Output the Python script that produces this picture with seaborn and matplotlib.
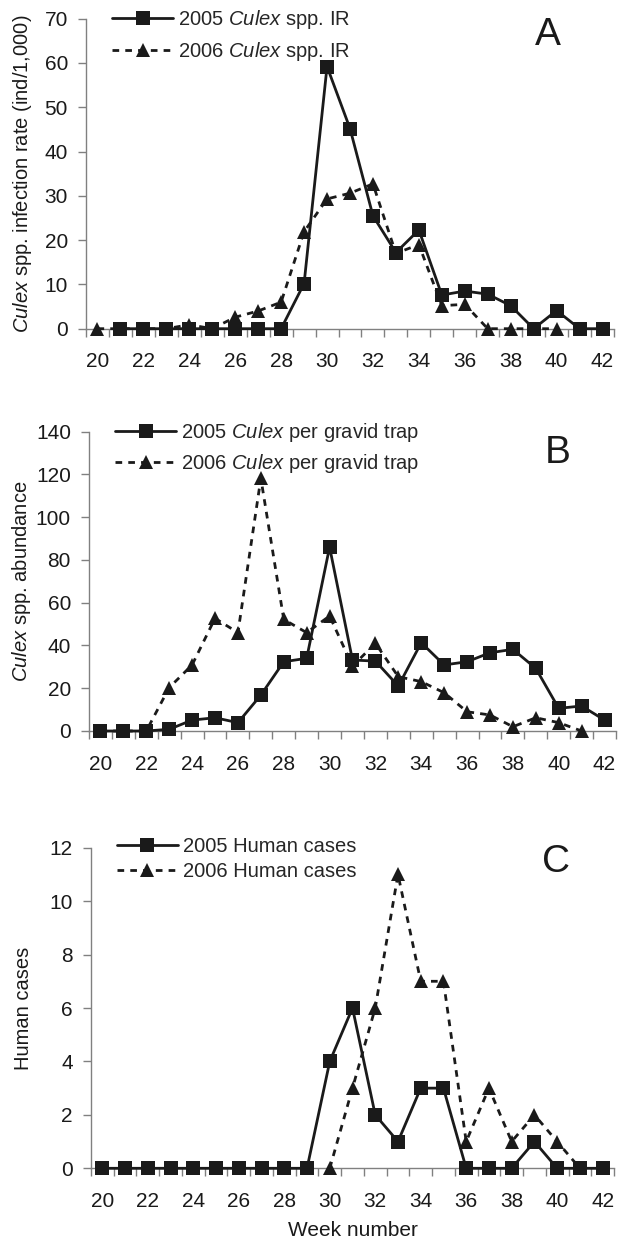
import matplotlib
matplotlib.use("Agg")
import matplotlib.pyplot as plt
import seaborn as sns
import pandas as pd

# ---------------- data ----------------
weeks_a05 = list(range(21, 43))
ir_2005 = [0, 0, 0, 0, 0, 0, 0, 0, 10.2, 59.2, 45.2, 25.5, 17.2, 22.3, 7.6, 8.5, 7.8, 5.2, 0, 4.1, 0, 0]
weeks_a06 = list(range(20, 41))
ir_2006 = [0, 0, 0, 0, 0.9, 0, 2.6, 4, 6, 21.9, 29.3, 30.6, 32.7, 17, 19, 5.2, 5.5, 0, 0, 0, 0]

weeks_b05 = list(range(20, 43))
trap_2005 = [0, 0, 0, 0.8, 5.1, 6.2, 3.9, 16.8, 32.4, 34, 86, 33.2, 32.7, 21, 41.3, 30.9, 32.4, 36.6,
             38.2, 29.3, 10.6, 11.7, 5.1]
weeks_b06 = list(range(20, 42))
trap_2006 = [0, 0, 0, 20.3, 30.9, 52.7, 46, 118.2, 52.2, 46, 53.8, 30.4, 41, 25.4, 23.1, 17.9, 9, 7.5,
             2, 6.2, 3.9, 0]

weeks_c05 = list(range(20, 43))
cases_2005 = [0, 0, 0, 0, 0, 0, 0, 0, 0, 0, 4, 6, 2, 1, 3, 3, 0, 0, 0, 1, 0, 0, 0]
weeks_c06 = list(range(30, 42))
cases_2006 = [0, 3, 6, 11, 7, 7, 1, 3, 1, 2, 1, 0]

xtick_labels = list(range(20, 43, 2))

labels_a = ["2005 $\\mathit{Culex}$ spp. IR", "2006 $\\mathit{Culex}$ spp. IR"]
labels_b = ["2005 $\\mathit{Culex}$ per gravid trap", "2006 $\\mathit{Culex}$ per gravid trap"]
labels_c = ["2005 Human cases", "2006 Human cases"]
ylabel_a = "$\\mathit{Culex}$ spp. infection rate (ind/1,000)"
ylabel_b = "$\\mathit{Culex}$ spp. abundance"
ylabel_c = "Human cases"
xlabel_c = "Week number"

# ---------------- style ----------------
sns.set_theme(style="white")
plt.rcParams["font.family"] = ["Liberation Sans", "DejaVu Sans"]
plt.rcParams["mathtext.fontset"] = "custom"
plt.rcParams["mathtext.rm"] = "Liberation Sans"
plt.rcParams["mathtext.it"] = "Liberation Sans:italic"
plt.rcParams["mathtext.default"] = "regular"

W, H = 626, 1243
fig = plt.figure(figsize=(W / 100, H / 100), dpi=100)
fig.patch.set_facecolor("white")

INK = "#1a1a1a"
GRAY = "#808080"


def make_axes(left, right, top, bottom):
    return fig.add_axes([left / W, 1 - bottom / H, (right - left) / W, (bottom - top) / H])


def draw_panel(ax, w05, v05, w06, v06, labels, ymax, ystep, ylabel, letter,
               letter_xy, leg_spacing):
    d06 = pd.DataFrame({"week": w06, "value": v06})
    d05 = pd.DataFrame({"week": w05, "value": v05})
    sns.lineplot(data=d06, x="week", y="value", ax=ax, color=INK, marker="^",
                 markersize=10, markeredgewidth=0, linewidth=2.0, label=labels[1],
                 clip_on=False, zorder=3)
    ax.lines[-1].set_dashes((2.4, 2.2))
    sns.lineplot(data=d05, x="week", y="value", ax=ax, color=INK, marker="s",
                 markersize=9.8, markeredgewidth=0, linewidth=2.0, label=labels[0],
                 clip_on=False, zorder=4)
    ax.set_xlim(19.5, 42.5)
    ax.set_ylim(0, ymax)
    ax.set_yticks(range(0, ymax + 1, ystep))
    ax.set_xticks(xtick_labels)
    ax.set_xticks([w + 0.5 for w in range(19, 43)], minor=True)
    ax.set_xticklabels([str(v) for v in xtick_labels])
    ax.tick_params(axis="x", which="major", length=0, pad=17, labelsize=15, labelcolor=INK)
    ax.tick_params(axis="x", which="minor", length=6, width=1, color=GRAY, direction="out",
                   bottom=True)
    ax.tick_params(axis="y", length=6, width=1, color=GRAY, direction="out", pad=7,
                   labelsize=15, labelcolor=INK, left=True)
    for s in ["top", "right"]:
        ax.spines[s].set_visible(False)
    for s in ["left", "bottom"]:
        ax.spines[s].set_color(GRAY)
        ax.spines[s].set_linewidth(1.0)
    ax.set_xlabel("")
    ax.set_ylabel(ylabel, fontsize=14.5, color=INK)
    ax.yaxis.label.set_va("center")
    handles, labs = ax.get_legend_handles_labels()
    order = [labs.index(labels[0]), labs.index(labels[1])]
    pos = ax.get_position()
    ax_h_px = pos.height * H
    ax.legend([handles[i] for i in order], [labs[i] for i in order],
              loc="upper left", bbox_to_anchor=(0.05, 1 + 11 / ax_h_px),
              frameon=False, fontsize=14.5, handlelength=3.0, handletextpad=0.25,
              labelspacing=leg_spacing, borderpad=0, borderaxespad=0)
    fig.text(letter_xy[0] / W, 1 - letter_xy[1] / H, letter, fontsize=28, color=INK,
             ha="center", va="center")


axA = make_axes(86, 614, 18.7, 328.7)
draw_panel(axA, weeks_a05, ir_2005, weeks_a06, ir_2006, labels_a, 70, 10, ylabel_a, "A",
           (548, 35), 0.45)
axA.yaxis.set_label_coords(-0.12, 0.5)

axB = make_axes(89, 616, 431.7, 731)
draw_panel(axB, weeks_b05, trap_2005, weeks_b06, trap_2006, labels_b, 140, 20, ylabel_b, "B",
           (558, 453), 0.4)
axB.yaxis.set_label_coords(-0.128, 0.5)

axC = make_axes(91, 614, 847.7, 1168.3)
draw_panel(axC, weeks_c05, cases_2005, weeks_c06, cases_2006, labels_c, 12, 2, ylabel_c, "C",
           (556, 862), 0.3)
axC.yaxis.set_label_coords(-0.13, 0.5)
axC.set_xlabel(xlabel_c, fontsize=15, color=INK, labelpad=7)

fig.savefig("out.png", dpi=100, facecolor="white")
